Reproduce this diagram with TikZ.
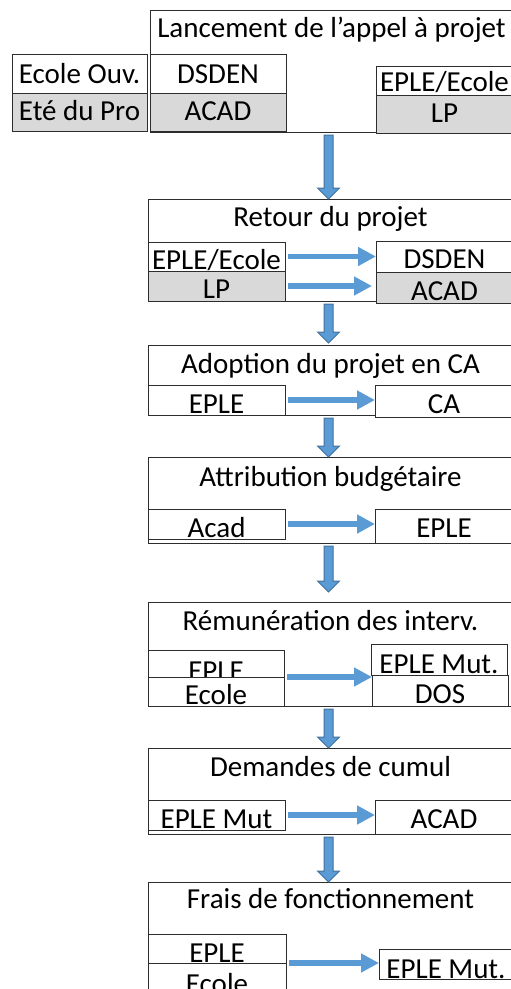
\documentclass[tikz,border=0pt]{standalone}
\usepackage{fontspec}
\setmainfont{Carlito}
\usetikzlibrary{calc,arrows.meta}

\definecolor{bleufleche}{RGB}{91,155,213}
\definecolor{bleubord}{RGB}{65,113,156}
\definecolor{grisfond}{RGB}{217,217,217}
\definecolor{trait}{RGB}{45,45,45}

\tikzset{
  etape/.style={draw=trait, fill=white, line width=1pt, anchor=north west,
    inner sep=0pt, outer sep=0pt, minimum width=365pt, align=center,
    font=\fontsize{29}{34}\selectfont},
  acteur/.style={draw=trait, fill=white, line width=1pt, anchor=north west,
    inner sep=0pt, outer sep=0pt, font=\fontsize{29}{34}\selectfont},
  acteurgris/.style={acteur, fill=grisfond},
  fleche/.style={draw=bleufleche, line width=5.5pt, shorten <=3pt,
    -{Triangle[length=18pt,width=18pt]}},
  blocfleche/.style={fill=bleufleche, draw=bleubord, line width=1pt}
}

% fleche bloc verticale entre deux etapes
\newcommand{\flechebas}[3][0]{%
  \path ($(#3.north)+(-2,-#1)$) coordinate (pointe)
        ($(pointe |- #2.south)+(0,3)$) coordinate (depart);
  \filldraw[blocfleche] ($(depart)+(-4.5,0)$) -- ($(pointe)+(-4.5,-11)$)
    -- ($(pointe)+(-11,-11)$) -- (pointe) -- ($(pointe)+(11,-11)$)
    -- ($(pointe)+(4.5,-11)$) -- ($(depart)+(4.5,0)$) -- cycle;}

\begin{document}
\begin{tikzpicture}[x=1pt, y=-1pt]
  \useasboundingbox (0,0) rectangle (511,989);
  \clip (0,0) rectangle (511,989);

  % lancement
  \node[etape, minimum width=363pt, text height=27pt, text depth=95pt] (lancement) at (150,10) {Lancement de l’appel à projet};
  \node[acteur, minimum width=135pt, text height=29pt, text depth=10pt] (ecoleouv) at (12,54) {Ecole Ouv.};
  \node[acteurgris, minimum width=135pt, text height=27pt, text depth=11pt] (etepro) at (12,93) {Eté du Pro};
  \node[acteur, minimum width=136pt, text height=29pt, text depth=10pt] (dsdenA) at (150,54) {DSDEN};
  \node[acteurgris, minimum width=136pt, text height=27pt, text depth=11pt] (acadA) at (150,93) {ACAD};
  \node[acteur, minimum width=137pt, text height=25pt, text depth=4pt] (epleA) at (376,66) {EPLE/Ecole};
  \node[acteurgris, minimum width=137pt, text height=27pt, text depth=11pt] (lpA) at (376,95) {LP};

  % retour
  \node[etape, text height=27pt, text depth=75pt] (retour) at (148,199) {Retour du projet};
  \node[acteur, minimum width=137pt, text height=27pt, text depth=2pt] (epleB) at (148,242) {EPLE/Ecole};
  \node[acteurgris, minimum width=137pt, text height=27pt, text depth=3pt] (lpB) at (148,271) {LP};
  \node[acteur, minimum width=137pt, text height=27pt, text depth=4pt] (dsdenB) at (376,241) {DSDEN};
  \node[acteurgris, minimum width=137pt, text height=28pt, text depth=3pt] (acadB) at (376,272) {ACAD};
  \draw[fleche] (epleB.east) -- (epleB.east -| dsdenB.west);
  \draw[fleche, shorten >=4pt] (lpB.east) -- (lpB.east -| acadB.west);

  % adoption
  \node[etape, text height=28pt, text depth=42pt] (adoption) at (148,345) {Adoption du projet en CA};
  \node[acteur, minimum width=137pt, text height=28pt, text depth=2pt] (epleC) at (148,385) {EPLE};
  \node[acteur, minimum width=138pt, text height=28pt, text depth=4pt] (caC) at (375,385) {CA};
  \draw[fleche] (epleC.east) -- (epleC.east -| caC.west);

  % attribution
  \node[etape, text height=29pt, text depth=57pt] (attribution) at (148,457) {Attribution budgétaire};
  \node[acteur, minimum width=137pt, text height=28pt, text depth=2pt] (acadD) at (148,509) {Acad};
  \node[acteur, minimum width=138pt, text height=28pt, text depth=6pt] (epleD) at (375,509) {EPLE};
  \draw[fleche] (acadD.east) -- (acadD.east -| epleD.west);

  % remuneration
  \node[etape, text height=28pt, text depth=76pt] (remuneration) at (148,602) {Rémunération des interv.};
  \node[acteur, minimum width=136pt, text height=30pt, text depth=26pt] (epleE) at (148,650) {EPLE};
  \node[acteur, minimum width=136pt, text height=27pt, text depth=2pt] (ecoleE) at (148,677) {Ecole};
  \node[acteur, minimum width=136pt, text height=29pt, text depth=2pt] (eplemutE) at (371,644) {EPLE Mut.};
  \node[acteur, minimum width=136pt, text height=28pt, text depth=3pt] (dosE) at (372,675) {DOS};
  \draw[fleche] (ecoleE.north east) -- (ecoleE.north east -| dosE.west);

  % cumul
  \node[etape, text height=28pt, text depth=58pt] (cumul) at (148,748) {Demandes de cumul};
  \node[acteur, minimum width=137pt, text height=28pt, text depth=2pt] (eplemutF) at (148,800) {EPLE Mut};
  \node[acteur, minimum width=138pt, text height=28pt, text depth=6pt] (acadF) at (375,800) {ACAD};
  \draw[fleche] (eplemutF.east) -- (eplemutF.east -| acadF.west);

  % frais
  \node[etape, text height=26pt, text depth=102pt] (frais) at (148,882) {Frais de fonctionnement};
  \node[acteur, minimum width=138pt, text height=28pt, text depth=1pt] (epleG) at (148,934) {EPLE};
  \node[acteur, minimum width=138pt, text height=30pt, text depth=17pt] (ecoleG) at (148,963) {Ecole};
  \node[acteur, minimum width=134pt, text height=29pt, text depth=1pt] (eplemutG) at (379,949) {EPLE Mut.};
  \draw[fleche] (epleG.south east) -- (epleG.south east -| eplemutG.west);

  % enchainement
  \flechebas{lancement}{retour}
  \flechebas[2]{retour}{adoption}
  \flechebas{adoption}{attribution}
  \flechebas[10]{attribution}{remuneration}
  \flechebas{remuneration}{cumul}
  \flechebas{cumul}{frais}
\end{tikzpicture}
\end{document}
